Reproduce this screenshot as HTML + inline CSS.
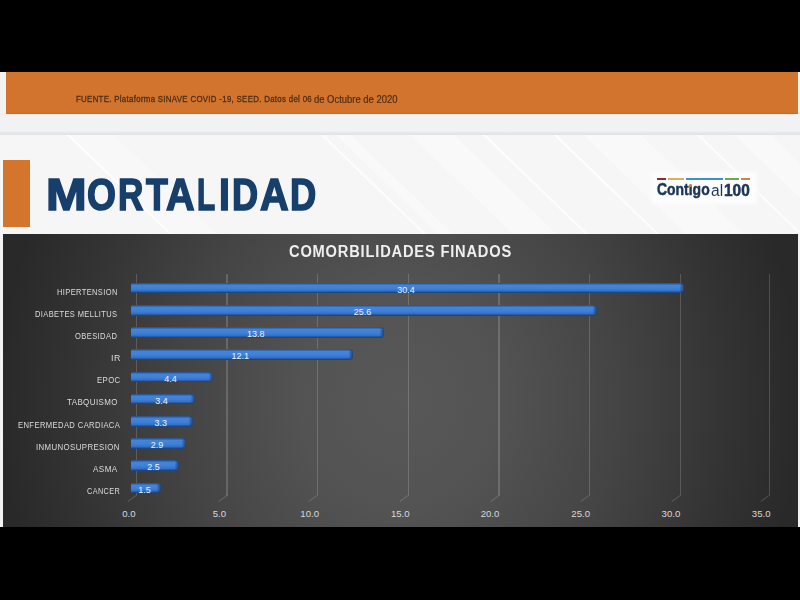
<!DOCTYPE html>
<html><head><meta charset="utf-8">
<style>
*{margin:0;padding:0;box-sizing:border-box}
html,body{width:800px;height:600px;overflow:hidden;background:#000;font-family:"Liberation Sans",sans-serif}
.t{position:absolute;white-space:nowrap;transform-origin:0 0}
#slide{position:absolute;left:0;top:72px;width:800px;height:454.8px;background:#f3f3f4}
#orange{position:absolute;left:6px;top:72px;width:792px;height:42px;background:#d2742d;border-bottom:1px solid #c06a2c}
#band{position:absolute;left:0;top:114px;width:800px;height:20.5px;background:linear-gradient(180deg,#f7e9dc 0,#f1f3f5 2px,#f0f2f4 17px,#e5e6e8 19px,#e3e4e6 20.5px)}
#hdr{position:absolute;left:0;top:134.5px;width:800px;height:99.5px;background:#f6f6f6;overflow:hidden}
.stp{position:absolute;top:-100px;height:300px;transform:rotate(-46deg);filter:blur(0.4px)}
#obar{position:absolute;left:3px;top:160.3px;width:26.7px;height:67px;background:#d3752d}
#logo{position:absolute;left:652.5px;top:174px;width:102px;height:28px;background:#fdfdfd;box-shadow:0 0 3px 2px #fcfcfc}
.lb{position:absolute;top:178px;height:2px}
#chart{position:absolute;left:3px;top:234px;width:795px;height:292.8px;background:radial-gradient(ellipse 400px 450px at 397px 166px,#585858 0%,#535353 25%,#444 55%,#333 82%,#292929 100%)}
.gl{position:absolute;top:274px;height:222px;width:1.4px;background:rgba(255,255,255,.17)}
.gd{position:absolute;top:495.5px;width:10px;height:1.4px;background:rgba(255,255,255,.17);transform-origin:0 0;transform:rotate(143deg);}
.ax{position:absolute;top:508.4px;width:40px;text-align:center;font-size:9.6px;color:#d9d9d9}
.bar{position:absolute;left:130.6px;height:10.8px;border-radius:1.5px 4px 4px 1.5px;background:linear-gradient(90deg,rgba(30,65,120,0) calc(100% - 4.5px),rgba(30,65,120,.55) calc(100% - 2px),rgba(25,50,95,.8) 100%),linear-gradient(180deg,#264f86 0,#2f62a6 10%,#4385dc 22%,#3e80d7 55%,#3570c3 78%,#27528e 90%,#1d3d68 100%)}
.bar span{position:absolute;left:0;top:3.2px;text-align:center;font-size:9px;color:#eef3fb;line-height:9px}
</style></head><body>
<div id="slide"></div>
<div id="orange"></div>
<div class="t" style="left:75.77px;top:94.99px;font-size:9.13px;line-height:9.13px;font-weight:normal;color:#4d2e16;transform:scaleX(0.8598);letter-spacing:0.04em;-webkit-text-stroke:0.3px #4d2e16;">FUENTE. Plataforma SINAVE COVID -19, SEED. Datos del 06</div>
<div class="t" style="left:313.62px;top:94.93px;font-size:10.43px;line-height:10.43px;font-weight:normal;color:#4d2e16;transform:scaleX(0.9059);-webkit-text-stroke:0.2px #4d2e16;">de Octubre de 2020</div>
<div id="band"></div>
<div id="hdr"><div class="stp" style="left:119.0px;width:2px;background:rgba(255,255,255,0.85)"></div><div class="stp" style="left:129.0px;width:30px;background:rgba(255,255,255,0.25)"></div><div class="stp" style="left:373.0px;width:2px;background:rgba(255,255,255,0.7)"></div><div class="stp" style="left:390.0px;width:10px;background:rgba(255,255,255,0.3)"></div><div class="stp" style="left:469.0px;width:30px;background:rgba(255,255,255,0.35)"></div><div class="stp" style="left:535.0px;width:2px;background:rgba(255,255,255,0.8)"></div><div class="stp" style="left:605.9px;width:2.2px;background:rgba(255,255,255,0.8)"></div><div class="stp" style="left:644.0px;width:40px;background:rgba(255,255,255,0.3)"></div><div class="stp" style="left:749.0px;width:2px;background:rgba(255,255,255,0.7)"></div><div class="stp" style="left:791.5px;width:25px;background:rgba(255,255,255,0.3)"></div></div>
<div id="obar"></div>
<div class="t" style="left:46.49px;top:173.16px;font-size:44.64px;line-height:44.64px;font-weight:bold;color:#173f6c;transform:scaleX(1.0935);-webkit-text-stroke:1.6px #173f6c;">M</div><div class="t" style="left:87.48px;top:173.16px;font-size:44.64px;line-height:44.64px;font-weight:bold;color:#173f6c;transform:scaleX(0.8332);-webkit-text-stroke:1.6px #173f6c;">O</div><div class="t" style="left:118.46px;top:173.16px;font-size:44.64px;line-height:44.64px;font-weight:bold;color:#173f6c;transform:scaleX(0.7878);-webkit-text-stroke:1.6px #173f6c;">R</div><div class="t" style="left:145.60px;top:173.16px;font-size:44.64px;line-height:44.64px;font-weight:bold;color:#173f6c;transform:scaleX(0.8013);-webkit-text-stroke:1.6px #173f6c;">T</div><div class="t" style="left:165.75px;top:173.16px;font-size:44.64px;line-height:44.64px;font-weight:bold;color:#173f6c;transform:scaleX(0.8871);-webkit-text-stroke:1.6px #173f6c;">A</div><div class="t" style="left:196.86px;top:173.16px;font-size:44.64px;line-height:44.64px;font-weight:bold;color:#173f6c;transform:scaleX(0.6661);-webkit-text-stroke:1.6px #173f6c;">L</div><div class="t" style="left:219.03px;top:173.16px;font-size:44.64px;line-height:44.64px;font-weight:bold;color:#173f6c;transform:scaleX(0.8790);-webkit-text-stroke:1.6px #173f6c;">I</div><div class="t" style="left:232.45px;top:173.16px;font-size:44.64px;line-height:44.64px;font-weight:bold;color:#173f6c;transform:scaleX(0.8095);-webkit-text-stroke:1.6px #173f6c;">D</div><div class="t" style="left:259.68px;top:173.16px;font-size:44.64px;line-height:44.64px;font-weight:bold;color:#173f6c;transform:scaleX(0.8896);-webkit-text-stroke:1.6px #173f6c;">A</div><div class="t" style="left:290.38px;top:173.16px;font-size:44.64px;line-height:44.64px;font-weight:bold;color:#173f6c;transform:scaleX(0.8136);-webkit-text-stroke:1.6px #173f6c;">D</div>
<div id="logo"></div>
<div class="lb" style="left:656.6px;width:9.8px;background:#8c2b3b"></div>
<div class="lb" style="left:668px;width:15.8px;background:#d9b25c"></div>
<div class="lb" style="left:685.6px;width:37.3px;background:#3c92c4"></div>
<div class="lb" style="left:725.1px;width:13.9px;background:#6aaa4c"></div>
<div class="lb" style="left:741.1px;width:8.8px;background:#d5804a"></div>
<div class="t" style="left:656.84px;top:181.20px;font-size:16.23px;line-height:16.23px;font-weight:bold;color:#1c3557;transform:scaleX(0.8597);-webkit-text-stroke:0.5px #1c3557;">Contıgo</div><div class="t" style="left:711.38px;top:182.55px;font-size:15.94px;line-height:15.94px;font-weight:normal;color:#1c3557;transform:scaleX(0.9742);">al</div><div class="t" style="left:724.47px;top:182.75px;font-size:15.94px;line-height:15.94px;font-weight:bold;color:#1c3557;transform:scaleX(0.9673);-webkit-text-stroke:0.5px #1c3557;">100</div>
<div style="position:absolute;left:689.3px;top:184.4px;width:2.6px;height:2.6px;border-radius:50%;background:#e07a35"></div>
<div id="chart"></div>
<div class="t" style="left:288.81px;top:244.35px;font-size:15.94px;line-height:15.94px;font-weight:bold;color:#efefef;transform:scaleX(0.9199);letter-spacing:0.055em;">COMORBILIDADES FINADOS</div>
<div class="gl" style="left:135.80px"></div><div class="gd" style="left:136.30px"></div><div class="ax" style="left:108.95px">0.0</div><div class="gl" style="left:226.40px"></div><div class="gd" style="left:226.90px"></div><div class="ax" style="left:199.30px">5.0</div><div class="gl" style="left:316.90px"></div><div class="gd" style="left:317.40px"></div><div class="ax" style="left:289.70px">10.0</div><div class="gl" style="left:407.70px"></div><div class="gd" style="left:408.20px"></div><div class="ax" style="left:380.30px">15.0</div><div class="gl" style="left:498.30px"></div><div class="gd" style="left:498.80px"></div><div class="ax" style="left:470.00px">20.0</div><div class="gl" style="left:588.90px"></div><div class="gd" style="left:589.40px"></div><div class="ax" style="left:560.70px">25.0</div><div class="gl" style="left:679.60px"></div><div class="gd" style="left:680.10px"></div><div class="ax" style="left:650.90px">30.0</div><div class="gl" style="left:768.80px"></div><div class="gd" style="left:769.30px"></div><div class="ax" style="left:741.20px">35.0</div>
<div class="bar" style="top:282.70px;width:553.4px"><span style="width:550.6px">30.4</span></div><div class="t" style="left:57.19px;top:287.24px;font-size:9.42px;line-height:9.42px;font-weight:normal;color:#dcdcdc;transform:scaleX(0.7986);letter-spacing:0.05em;">HIPERTENSION</div><div class="bar" style="top:304.90px;width:466.6px"><span style="width:463.8px">25.6</span></div><div class="t" style="left:35.19px;top:309.24px;font-size:9.42px;line-height:9.42px;font-weight:normal;color:#dcdcdc;transform:scaleX(0.7989);letter-spacing:0.05em;">DIABETES MELLITUS</div><div class="bar" style="top:327.10px;width:253.0px"><span style="width:250.2px">13.8</span></div><div class="t" style="left:75.41px;top:331.44px;font-size:9.42px;line-height:9.42px;font-weight:normal;color:#dcdcdc;transform:scaleX(0.8071);letter-spacing:0.05em;">OBESIDAD</div><div class="bar" style="top:349.30px;width:222.2px"><span style="width:219.4px">12.1</span></div><div class="t" style="left:111.20px;top:353.24px;font-size:9.42px;line-height:9.42px;font-weight:normal;color:#dcdcdc;transform:scaleX(0.9416);letter-spacing:0.05em;">IR</div><div class="bar" style="top:371.50px;width:82.8px"><span style="width:80.0px">4.4</span></div><div class="t" style="left:97.17px;top:375.24px;font-size:9.42px;line-height:9.42px;font-weight:normal;color:#dcdcdc;transform:scaleX(0.8248);letter-spacing:0.05em;">EPOC</div><div class="bar" style="top:393.70px;width:64.7px"><span style="width:61.9px">3.4</span></div><div class="t" style="left:66.65px;top:397.24px;font-size:9.42px;line-height:9.42px;font-weight:normal;color:#dcdcdc;transform:scaleX(0.8480);letter-spacing:0.05em;">TABQUISMO</div><div class="bar" style="top:415.90px;width:62.9px"><span style="width:60.1px">3.3</span></div><div class="t" style="left:18.19px;top:420.66px;font-size:8.99px;line-height:8.99px;font-weight:normal;color:#dcdcdc;transform:scaleX(0.8494);letter-spacing:0.05em;">ENFERMEDAD CARDIACA</div><div class="bar" style="top:438.10px;width:55.7px"><span style="width:52.9px">2.9</span></div><div class="t" style="left:36.30px;top:442.66px;font-size:8.99px;line-height:8.99px;font-weight:normal;color:#dcdcdc;transform:scaleX(0.8716);letter-spacing:0.05em;">INMUNOSUPRESION</div><div class="bar" style="top:460.30px;width:48.5px"><span style="width:45.6px">2.5</span></div><div class="t" style="left:93.00px;top:465.06px;font-size:8.99px;line-height:8.99px;font-weight:normal;color:#dcdcdc;transform:scaleX(0.9045);letter-spacing:0.05em;">ASMA</div><div class="bar" style="top:482.50px;width:30.4px"><span style="width:27.6px">1.5</span></div><div class="t" style="left:86.63px;top:486.86px;font-size:8.99px;line-height:8.99px;font-weight:normal;color:#dcdcdc;transform:scaleX(0.8149);letter-spacing:0.05em;">CANCER</div>
</body></html>
